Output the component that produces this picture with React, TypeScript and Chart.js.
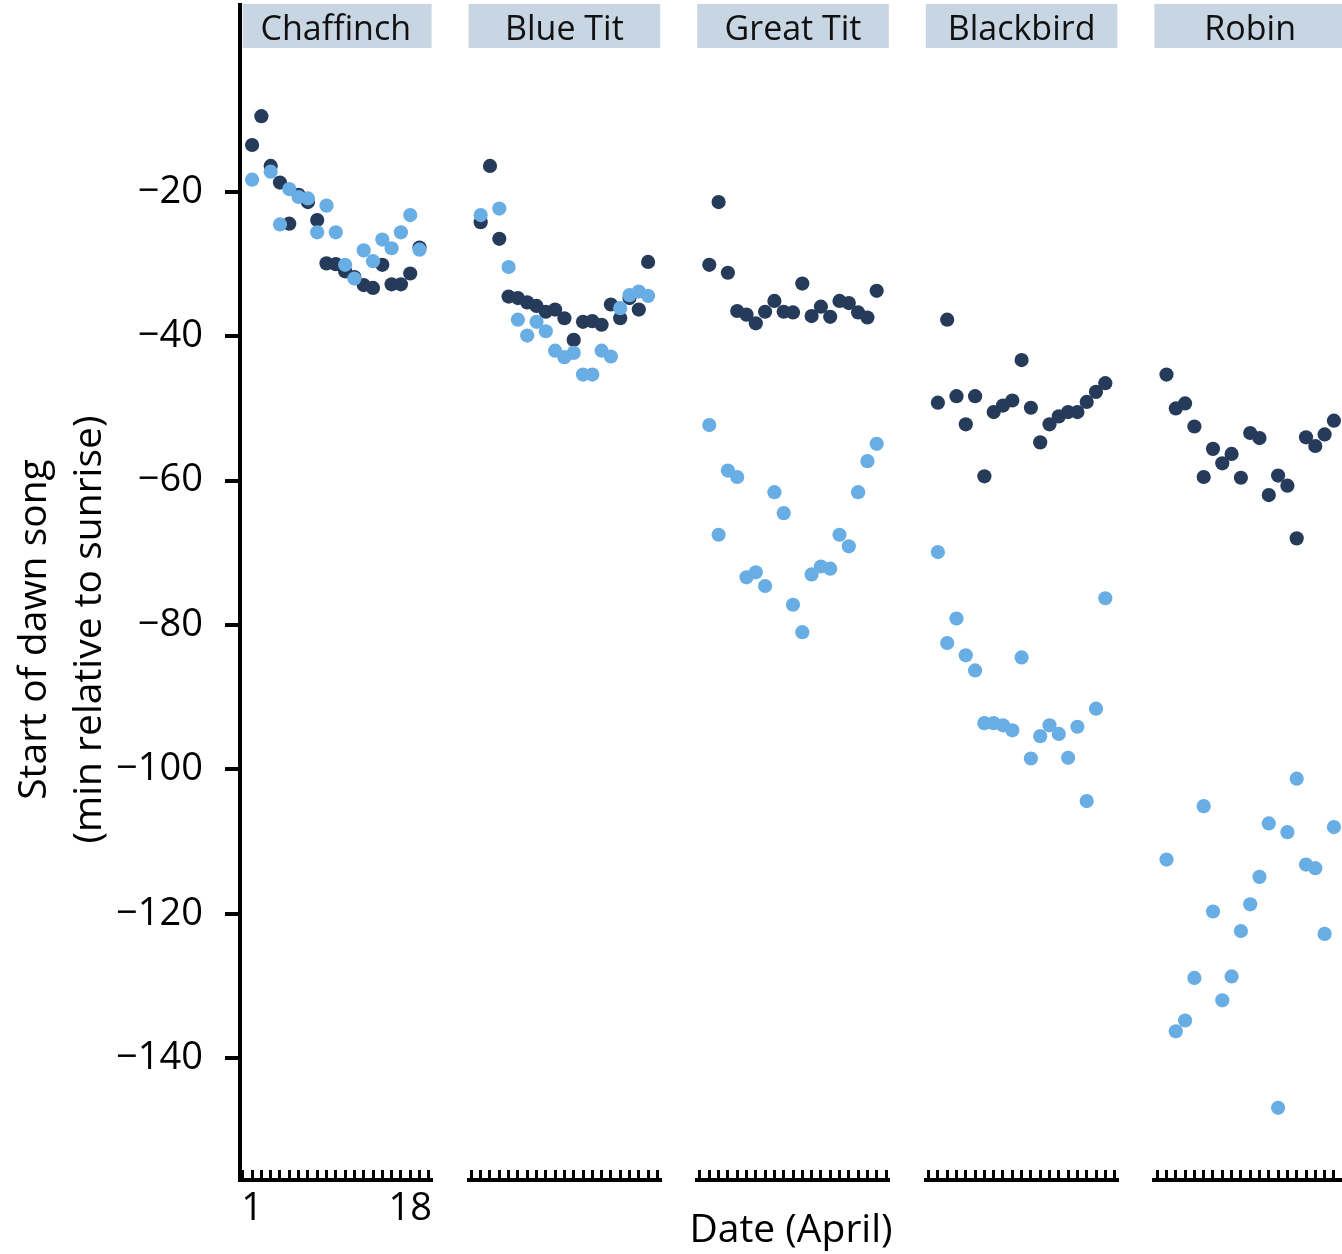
import React, { useEffect, useRef } from 'react';
import { Chart, registerables } from 'chart.js';

Chart.register(...registerables);

// ---------- data ----------
const species = ['Chaffinch', 'Blue Tit', 'Great Tit', 'Blackbird', 'Robin'];
const dates = [1, 2, 3, 4, 5, 6, 7, 8, 9, 10, 11, 12, 13, 14, 15, 16, 17, 18, 19];

const chaffinchDark = [-13.5, -9.5, -16.4, -18.7, -24.4, -20.4, -21.4, -23.9, -29.9, -30.0, -31.0, -31.8, -32.9, -33.3, -30.1, -32.8, -32.8, -31.3, -27.7];
const chaffinchLight = [-18.3, null, -17.2, -24.5, -19.6, -20.7, -20.9, -25.6, -21.9, -25.6, -30.1, -32.0, -28.1, -29.6, -26.6, -27.8, -25.6, -23.2, -28.0];

const blueTitDark = [-24.2, -16.4, -26.5, -34.5, -34.7, -35.3, -35.8, -36.6, -36.3, -37.5, -40.5, -38.0, -37.9, -38.4, -35.6, -37.5, -34.7, -36.3, -29.7];
const blueTitLight = [-23.2, null, -22.3, -30.4, -37.7, -39.9, -38.0, -39.3, -42.0, -42.9, -42.3, -45.3, -45.3, -42.0, -42.8, -36.1, -34.3, -33.8, -34.4];

const greatTitDark = [-30.1, -21.4, -31.2, -36.5, -37.0, -38.2, -36.6, -35.1, -36.6, -36.7, -32.7, -37.2, -35.9, -37.3, -35.1, -35.4, -36.7, -37.4, -33.7];
const greatTitLight = [-52.3, -67.5, -58.6, -59.5, -73.4, -72.7, -74.6, -61.6, -64.5, -77.2, -81.0, -73.0, -71.9, -72.2, -67.5, -69.1, -61.6, -57.3, -54.9];

const blackbirdDark = [-49.2, -37.7, -48.3, -52.2, -48.3, -59.4, -50.5, -49.6, -48.9, -43.3, -49.9, -54.7, -52.2, -51.1, -50.5, -50.5, -49.1, -47.7, -46.5];
const blackbirdLight = [-69.9, -82.5, -79.1, -84.2, -86.3, -93.6, -93.6, -93.9, -94.6, -84.5, -98.5, -95.4, -93.9, -95.1, -98.4, -94.1, -104.4, -91.6, -76.3];

const robinDark = [-45.3, -50.0, -49.3, -52.5, -59.5, -55.6, -57.6, -56.3, -59.6, -53.4, -54.1, -62.0, -59.3, -60.7, -68.0, -54.0, -55.2, -53.6, -51.7];
const robinLight = [-112.5, -136.3, -134.8, -128.9, -105.1, -119.7, -132.0, -128.7, -122.4, -118.7, -114.9, -107.5, -146.9, -108.7, -101.3, -113.2, -113.7, -122.8, -108.0];

const darkSeries = [chaffinchDark, blueTitDark, greatTitDark, blackbirdDark, robinDark];
const lightSeries = [chaffinchLight, blueTitLight, greatTitLight, blackbirdLight, robinLight];

const yTickValues = [-140, -120, -100, -80, -60, -40, -20];
const xTickValues = [0, 1, 2, 3, 4, 5, 6, 7, 8, 9, 10, 11, 12, 13, 14, 15, 16, 17, 18, 19, 20];
const xLabelValues = [1, 18];

const yTitleLines = ['Start of dawn song', '(min relative to sunrise)'];
const xTitle = 'Date (April)';

// ---------- style / layout ----------
const FONT = '"Open Sans", "DejaVu Sans", sans-serif';
const DARK = '#253b59';
const LIGHT = '#69ade5';
const STRIP = '#c8d5e3';

const Y_MIN = -156.9;
const Y_MAX = 5.9;
const X_MIN = -0.3;
const X_MAX = 20.3;
const LAST_MAX = 19.87;
const PANEL_W = 191.6;
const GAP_W = 37;
const LAST_W = 187.6;
const X_AXIS_H = 44;
const Y_AXIS_W = 122.8;
const POINT_R = 7.1;

const toPoints = (vals: (number | null)[]) =>
  dates
    .map((d, i) => ({ x: d, y: vals[i] }))
    .filter((p) => p.y !== null && p.y !== undefined);

const stripPlugin = {
  id: 'facetStrips',
  beforeDatasetsDraw(chart: any) {
    const ctx = chart.ctx;
    ctx.save();
    species.forEach((name, i) => {
      const s = chart.scales['x' + i];
      const left = i === 0 ? s.left + 2.7 : s.left;
      ctx.fillStyle = STRIP;
      ctx.fillRect(left, 4, s.right - left, 44);
      ctx.fillStyle = '#111';
      ctx.font = `34px ${FONT}`;
      ctx.textAlign = 'center';
      ctx.textBaseline = 'alphabetic';
      ctx.fillText(name, s.getPixelForValue((X_MIN + X_MAX) / 2), 39.5);
    });
    ctx.restore();
  },
};

export default function App() {
  const ref = useRef<HTMLCanvasElement | null>(null);

  useEffect(() => {
    document.body.style.margin = '0';
    const canvas = ref.current;
    if (!canvas) return;

    const scales: any = {
      y: {
        type: 'linear',
        position: 'left',
        min: Y_MIN,
        max: Y_MAX,
        afterBuildTicks: (s: any) => {
          s.ticks = yTickValues.map((v) => ({ value: v }));
        },
        afterFit: (s: any) => {
          s.width = Y_AXIS_W;
          s.paddingTop = 0;
          s.paddingBottom = 0;
        },
        ticks: {
          font: { family: FONT, size: 38 },
          color: '#000',
          padding: 22,
          callback: (v: number) => (v < 0 ? '\u2212' + Math.abs(v) : String(v)),
        },
        grid: {
          display: true,
          drawOnChartArea: false,
          drawTicks: true,
          tickLength: 15,
          tickWidth: 4,
          tickColor: '#000',
          color: '#000',
          lineWidth: 4,
        },
        border: { display: true, color: '#000', width: 4 },
      },
    };

    species.forEach((name, i) => {
      const isLast = i === species.length - 1;
      scales['x' + i] = {
        type: 'linear',
        position: 'bottom',
        stack: 'panels',
        stackWeight: isLast ? LAST_W : PANEL_W,
        min: X_MIN,
        max: isLast ? LAST_MAX : X_MAX,
        afterBuildTicks: (s: any) => {
          s.ticks = xTickValues.filter((v) => v >= s.min && v <= s.max).map((v) => ({ value: v }));
        },
        afterFit: (s: any) => {
          s.height = X_AXIS_H;
          s.paddingLeft = 0;
          s.paddingRight = 0;
        },
        ticks: {
          autoSkip: false,
          maxRotation: 0,
          minRotation: 0,
          padding: 16,
          font: { family: FONT, size: 38 },
          color: '#000',
          callback: (v: number) => (i === 0 && xLabelValues.includes(v) ? String(v) : ''),
        },
        grid: {
          display: true,
          drawOnChartArea: false,
          drawTicks: true,
          tickLength: -10,
          tickWidth: 3,
          tickColor: '#000',
          color: '#000',
          lineWidth: 3,
        },
        border: { display: true, color: '#000', width: 4 },
      };
      if (!isLast) {
        scales['gap' + i] = {
          type: 'linear',
          position: 'bottom',
          stack: 'panels',
          stackWeight: GAP_W,
          min: 0,
          max: 1,
          ticks: { display: false },
          grid: { display: false },
          border: { display: false },
          afterFit: (s: any) => {
            s.height = X_AXIS_H;
            s.paddingLeft = 0;
            s.paddingRight = 0;
          },
        };
      }
    });

    const datasets: any[] = [];
    species.forEach((name, i) => {
      datasets.push({
        label: name + ' (light)',
        data: toPoints(lightSeries[i]),
        xAxisID: 'x' + i,
        yAxisID: 'y',
        backgroundColor: LIGHT,
        borderWidth: 0,
        pointRadius: POINT_R,
        pointHoverRadius: POINT_R,
        pointBorderWidth: 0,
        order: 0,
      });
      datasets.push({
        label: name + ' (dark)',
        data: toPoints(darkSeries[i]),
        xAxisID: 'x' + i,
        yAxisID: 'y',
        backgroundColor: DARK,
        borderWidth: 0,
        pointRadius: POINT_R,
        pointHoverRadius: POINT_R,
        pointBorderWidth: 0,
        order: 1,
      });
    });

    const chart = new Chart(canvas, {
      type: 'scatter',
      data: { datasets },
      options: {
        responsive: false,
        animation: false,
        devicePixelRatio: 1,
        layout: { autoPadding: false, padding: { top: 5, left: 0, right: 0, bottom: 0 } },
        scales,
        plugins: {
          legend: { display: false },
          tooltip: { enabled: false },
          title: {
            display: true,
            position: 'left',
            fullSize: true,
            text: yTitleLines,
            color: '#000',
            font: { family: FONT, size: 39, weight: 'normal', lineHeight: 1.4 },
            padding: { top: 8, bottom: 0 },
          },
          subtitle: {
            display: true,
            position: 'bottom',
            fullSize: false,
            text: xTitle,
            color: '#000',
            font: { family: FONT, size: 39, weight: 'normal', lineHeight: 1.2 },
            padding: { top: -16.8, bottom: 0 },
          },
        },
      } as any,
      plugins: [stripPlugin],
    });

    return () => chart.destroy();
  }, []);

  return (
    <canvas
      ref={ref}
      width={1342}
      height={1254}
      style={{ display: 'block', width: '1342px', height: '1254px' }}
    />
  );
}
